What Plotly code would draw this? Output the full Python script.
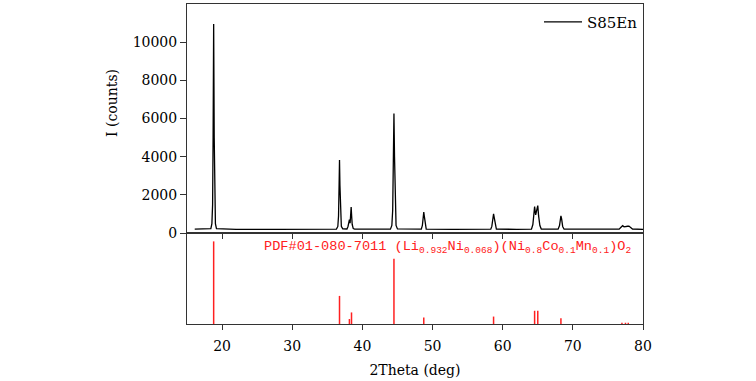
import plotly.graph_objects as go

# Measured XRD pattern (2Theta in deg, intensity in counts)
two_theta = [16.1, 17.5, 18.4, 18.55, 18.65, 18.72, 18.8, 18.88, 18.95, 19.05, 19.2,
             22.0, 28.0, 34.0, 36.3, 36.5, 36.6, 36.68, 36.74, 36.8, 36.88, 37.0, 37.2,
             37.8, 37.95, 38.08, 38.15, 38.25, 38.33, 38.4, 38.47, 38.55, 38.7, 38.9,
             41.0, 44.0, 44.2, 44.32, 44.42, 44.5, 44.58, 44.68, 44.8, 45.0,
             47.0, 48.4, 48.55, 48.68, 48.75, 48.82, 48.95, 49.1,
             53.0, 58.3, 58.45, 58.6, 58.7, 58.8, 58.95, 59.1,
             62.0, 64.1, 64.3, 64.45, 64.55, 64.7, 64.85, 65.0, 65.12, 65.3, 65.5,
             67.9, 68.1, 68.22, 68.3, 68.4, 68.55, 68.75,
             72.0, 76.6, 76.9, 77.1, 77.3, 77.5, 77.8, 78.0, 78.2, 78.5, 80.0]
counts = [210, 205, 230, 500, 1500, 5000, 10950, 5000, 1500, 500, 230,
          200, 200, 205, 210, 350, 900, 2500, 3830, 2500, 900, 350, 220,
          215, 350, 650, 700, 520, 800, 1360, 900, 450, 240, 210,
          205, 210, 400, 1200, 4000, 6260, 4000, 1200, 400, 220,
          205, 205, 400, 900, 1100, 900, 400, 210,
          200, 205, 350, 800, 1010, 800, 350, 205,
          200, 210, 450, 1100, 1390, 950, 1200, 1440, 900, 400, 215,
          205, 400, 780, 900, 750, 350, 205,
          200, 205, 320, 390, 330, 330, 360, 370, 290, 215, 200]

# Reference card PDF#01-080-7011 stick pattern (relative intensity)
ref_pos = [18.8, 36.74, 38.15, 38.45, 44.5, 48.75, 58.7, 64.55, 65.0, 68.3, 77.0, 77.5, 77.9]
ref_int = [100, 34, 6, 14, 79, 8, 9, 16, 16, 7, 1.5, 1.5, 1.5]

x_ticks = [20, 30, 40, 50, 60, 70, 80]
y_ticks = [0, 2000, 4000, 6000, 8000, 10000]
y_tick_text = ["0", "2000", "4000", "6000", "8000", "10000"]

serif = "DejaVu Serif"
axcol = "#333333"

fig = go.Figure()
fig.add_trace(go.Scatter(x=two_theta, y=counts, mode="lines", name="S85En",
                         line=dict(color="black", width=1.3),
                         xaxis="x", yaxis="y", showlegend=True))

sx, sy = [], []
for p, h in zip(ref_pos, ref_int):
    sx += [p, p, None]
    sy += [0, h, None]
fig.add_trace(go.Scatter(x=sx, y=sy, mode="lines", line=dict(color="#ff2020", width=1.5),
                         xaxis="x2", yaxis="y2", showlegend=False, connectgaps=False))

fig.add_annotation(x=25.75, y=92, xref="x2", yref="y2", xanchor="left", yanchor="middle",
                   text="PDF#01-080-7011 (Li<sub>0.932</sub>Ni<sub>0.068</sub>)(Ni<sub>0.8</sub>Co<sub>0.1</sub>Mn<sub>0.1</sub>)O<sub>2</sub>",
                   showarrow=False, font=dict(family="Liberation Mono", size=13.6, color="#ff2020"))

fig.add_annotation(x=-0.165, y=0.69, xref="paper", yref="paper", textangle=-90,
                   text="I (counts)", showarrow=False, xanchor="center", yanchor="middle",
                   font=dict(family=serif, size=14, color="black"))

fig.update_layout(
    width=756, height=381,
    margin=dict(l=187, r=113, t=4, b=57),
    paper_bgcolor="white", plot_bgcolor="white",
    font=dict(family=serif, size=14, color="black"),
    xaxis=dict(domain=[0, 1], anchor="y", range=[15, 80], tickvals=x_ticks, showticklabels=False,
               ticks="outside", ticklen=5, tickcolor=axcol, showline=True, linecolor=axcol,
               linewidth=1, mirror=True, showgrid=False, zeroline=False),
    yaxis=dict(domain=[0.284, 1], anchor="x", range=[0, 12000], tickvals=y_ticks,
               ticktext=y_tick_text,
               ticks="outside", ticklen=6, tickcolor=axcol, showline=True, linecolor=axcol,
               linewidth=1, mirror=True, showgrid=False, zeroline=False),
    xaxis2=dict(domain=[0, 1], anchor="y2", range=[15, 80], tickvals=x_ticks,
                ticks="outside", ticklen=5, tickcolor=axcol, showline=True, linecolor=axcol,
                linewidth=1, mirror=True, showgrid=False, zeroline=False,
                ticklabelstandoff=4,
                title=dict(text="2Theta (deg)", standoff=12, font=dict(family=serif, size=14))),
    yaxis2=dict(domain=[0, 0.284], anchor="x2", range=[0, 110], showticklabels=False,
                ticks="", showline=True, linecolor=axcol, linewidth=1, mirror=True,
                showgrid=False, zeroline=False),
    legend=dict(x=1.0, y=0.995, xanchor="right", yanchor="top", bgcolor="rgba(0,0,0,0)",
                itemwidth=38, font=dict(family=serif, size=15)),
)

fig.write_html("out.html", config={"displayModeBar": False},
               post_script="document.body.style.margin='0px';")
